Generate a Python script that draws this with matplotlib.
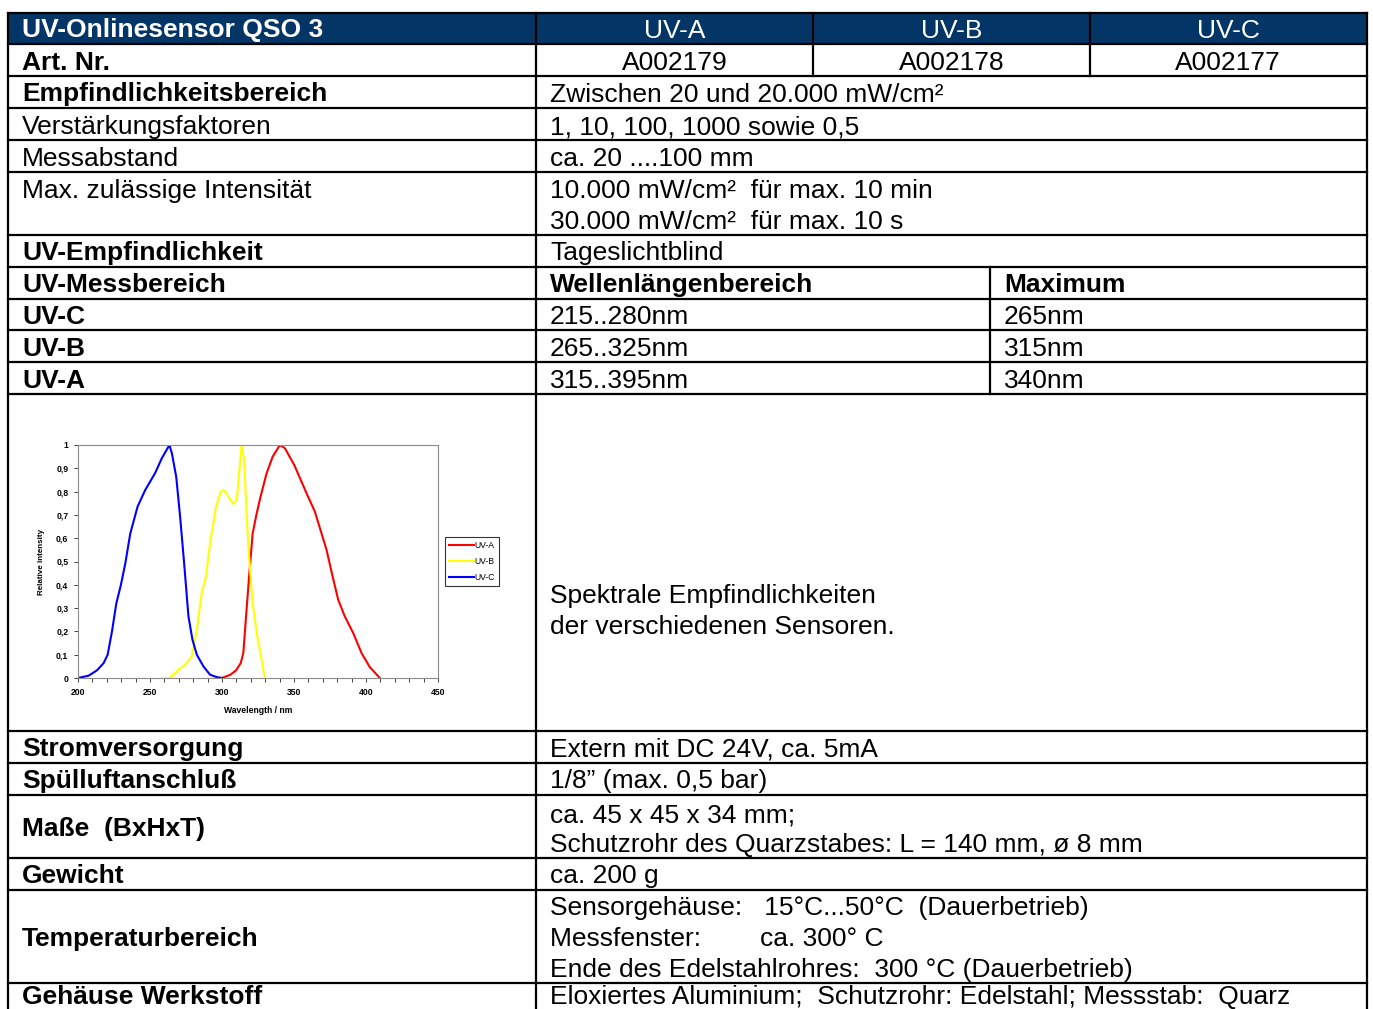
import matplotlib
matplotlib.use("Agg")
import matplotlib.pyplot as plt
from matplotlib.lines import Line2D
from matplotlib.patches import Rectangle
from matplotlib.ticker import MultipleLocator, FuncFormatter

plt.rcParams['font.family'] = ['Liberation Sans', 'DejaVu Sans']

# ---------------- data ----------------
uva_wl = [300, 305.8, 309.8, 313, 314.8, 316.7, 319, 321.3, 324.1, 326.8, 331, 335.2, 340.2,
          343.7, 350.2, 358.7, 364.5, 369.1, 372.6, 376.8, 380.7, 385.3, 391.1, 396.9, 402.6, 409.6]
uva_int = [0, 0.014, 0.033, 0.064, 0.107, 0.264, 0.45, 0.621, 0.707, 0.779, 0.879, 0.95, 1.0,
           0.986, 0.914, 0.793, 0.714, 0.621, 0.55, 0.436, 0.336, 0.264, 0.193, 0.107, 0.047, 0]
uvb_wl = [259.4, 264, 269.8, 274.4, 279, 282.5, 285.9, 288.9, 291.7, 295.9, 299.1, 301.4, 304.4,
          307.9, 310.2, 312.1, 313.7, 315.3, 318.3, 321.3, 324.5, 327.1, 329.8]
uvb_int = [0, 0, 0.036, 0.057, 0.093, 0.207, 0.364, 0.436, 0.579, 0.736, 0.8, 0.807, 0.779,
           0.747, 0.764, 0.893, 1.0, 0.936, 0.564, 0.321, 0.179, 0.093, 0]
uvc_wl = [200, 207.4, 213.2, 217.8, 220.6, 223.6, 226.6, 229.8, 232.8, 236.3, 241.4, 246.7, 253.6,
          258.2, 263.5, 265.2, 268.2, 270.9, 273.7, 276.7, 279.5, 282.5, 287.1, 291.7, 296.3, 300]
uvc_int = [0, 0.01, 0.033, 0.064, 0.1, 0.2, 0.32, 0.4, 0.49, 0.62, 0.736, 0.807, 0.88,
           0.943, 1.0, 0.964, 0.864, 0.693, 0.493, 0.264, 0.164, 0.1, 0.05, 0.014, 0.004, 0]
series_labels = ["UV-A", "UV-B", "UV-C"]

title_text = "UV-Onlinesensor QSO 3"
sensor_cols = ["UV-A", "UV-B", "UV-C"]
art_numbers = ["A002179", "A002178", "A002177"]

# label column: (text, bold, baseline)
left_labels = [
    ("Art. Nr.", True, 69.5),
    ("Empfindlichkeitsbereich", True, 101.5),
    ("Verstärkungsfaktoren", False, 134),
    ("Messabstand", False, 166),
    ("Max. zulässige Intensität", False, 198),
    ("UV-Empfindlichkeit", True, 260),
    ("UV-Messbereich", True, 292),
    ("UV-C", True, 324),
    ("UV-B", True, 356),
    ("UV-A", True, 388),
    ("Stromversorgung", True, 756),
    ("Spülluftanschluß", True, 788),
    ("Maße  (BxHxT)", True, 836),
    ("Gewicht", True, 883),
    ("Temperaturbereich", True, 946),
    ("Gehäuse Werkstoff", True, 1004),
]
value_texts = [
    ("Zwischen 20 und 20.000 mW/cm²", False, 101.5),
    ("1, 10, 100, 1000 sowie 0,5", False, 134),
    ("ca. 20 ....100 mm", False, 166),
    ("10.000 mW/cm²  für max. 10 min", False, 198),
    ("30.000 mW/cm²  für max. 10 s", False, 229),
    ("Tageslichtblind", False, 260),
    ("Wellenlängenbereich", True, 292),
    ("215..280nm", False, 324),
    ("265..325nm", False, 356),
    ("315..395nm", False, 388),
    ("Spektrale Empfindlichkeiten", False, 603),
    ("der verschiedenen Sensoren.", False, 634),
    ("Extern mit DC 24V, ca. 5mA", False, 756),
    ("1/8” (max. 0,5 bar)", False, 788),
    ("ca. 45 x 45 x 34 mm;", False, 822),
    ("Schutzrohr des Quarzstabes: L = 140 mm, ø 8 mm", False, 852),
    ("ca. 200 g", False, 883),
    ("Sensorgehäuse:   15°C...50°C  (Dauerbetrieb)", False, 915),
    ("Messfenster:        ca. 300° C", False, 946),
    ("Ende des Edelstahlrohres:  300 °C (Dauerbetrieb)", False, 977),
    ("Eloxiertes Aluminium;  Schutzrohr: Edelstahl; Messstab:  Quarz", False, 1004),
]
max_texts = [("Maximum", True, 292), ("265nm", False, 324), ("315nm", False, 356), ("340nm", False, 388)]

# ---------------- layout ----------------
W, H = 1373, 1009
fig = plt.figure(figsize=(W / 100, H / 100), dpi=100)
ov = fig.add_axes([0, 0, 1, 1])
ov.set_xlim(0, W)
ov.set_ylim(H, 0)
ov.axis('off')

X0, X1, XC = 7.5, 1366.5, 536
XB, XCc, XM = 813, 1090, 990
rows = [12.5, 43.5, 75.5, 107.5, 139.5, 171.5, 234.5, 266.5, 298.5, 330, 362, 393.5,
        731, 763, 795, 858, 890, 983]
HEAD = '#043567'
LW = 1.6
FS = 19

ov.add_patch(Rectangle((X0, rows[0]), X1 - X0, rows[1] - rows[0], facecolor=HEAD, edgecolor='none'))
for y in rows:
    ov.add_line(Line2D([X0, X1], [y, y], color='black', lw=LW, solid_capstyle='projecting'))
ov.add_line(Line2D([X0, X0], [rows[0], H], color='black', lw=LW))
ov.add_line(Line2D([X1, X1], [rows[0], H], color='black', lw=LW))
ov.add_line(Line2D([XC, XC], [rows[0], H], color='black', lw=LW))
for x in (XB, XCc):
    ov.add_line(Line2D([x, x], [rows[0], rows[2]], color='black', lw=LW))
ov.add_line(Line2D([XM, XM], [rows[7], rows[11]], color='black', lw=LW))

ov.text(22, 37.5, title_text, color='white', fontsize=FS, fontweight='bold', va='baseline')
centers = [(XC + XB) / 2, (XB + XCc) / 2, (XCc + X1) / 2]
for cx, lab, art in zip(centers, sensor_cols, art_numbers):
    ov.text(cx, 37.5, lab, color='white', fontsize=FS, ha='center', va='baseline')
    ov.text(cx, 69.5, art, color='black', fontsize=FS, ha='center', va='baseline')
for t, b, y in left_labels:
    ov.text(22, y, t, fontsize=FS, fontweight='bold' if b else 'normal', va='baseline')
for t, b, y in value_texts:
    ov.text(550, y, t, fontsize=FS, fontweight='bold' if b else 'normal', va='baseline')
for t, b, y in max_texts:
    ov.text(1004, y, t, fontsize=FS, fontweight='bold' if b else 'normal', va='baseline')

# ---------------- inset chart ----------------
ax_l, ax_r, ax_t, ax_b = 78, 438, 445, 678
ax = fig.add_axes([ax_l / W, (H - ax_b) / H, (ax_r - ax_l) / W, (ax_b - ax_t) / H])
ax.plot(uva_wl, uva_int, color='#FF0000', lw=1.5, label=series_labels[0])
ax.plot(uvb_wl, uvb_int, color='#FFFF00', lw=1.5, label=series_labels[1])
ax.plot(uvc_wl, uvc_int, color='#0000FF', lw=1.5, label=series_labels[2])
ax.set_xlim(200, 450)
ax.set_ylim(0, 1)
ax.xaxis.set_major_locator(MultipleLocator(50))
ax.xaxis.set_minor_locator(MultipleLocator(10))
ax.yaxis.set_major_locator(MultipleLocator(0.1))
ax.yaxis.set_major_formatter(FuncFormatter(lambda v, p: ('%g' % round(v, 1)).replace('.', ',')))
for s in ax.spines.values():
    s.set_color('#8c8c8c')
    s.set_linewidth(0.8)
ax.tick_params(axis='both', which='both', direction='out', length=3, width=0.7, color='#404040',
               labelsize=6.2, pad=4)
for lab in ax.get_xticklabels() + ax.get_yticklabels():
    lab.set_fontweight('bold')
ax.set_xlabel("Wavelength / nm", fontsize=6.2, fontweight='bold', labelpad=7)
ax.set_ylabel("Relative intensity", fontsize=5.8, fontweight='bold', labelpad=8)
leg = ax.legend(loc='center left', bbox_to_anchor=(445 / W, (H - 561.5) / H),
                bbox_transform=fig.transFigure, fontsize=6.2, frameon=True, fancybox=False,
                edgecolor='black', handlelength=2.9, handletextpad=0.1, labelspacing=0.85,
                borderpad=0.45, borderaxespad=0)
leg.get_frame().set_linewidth(0.8)

fig.savefig("out.png", dpi=100)
